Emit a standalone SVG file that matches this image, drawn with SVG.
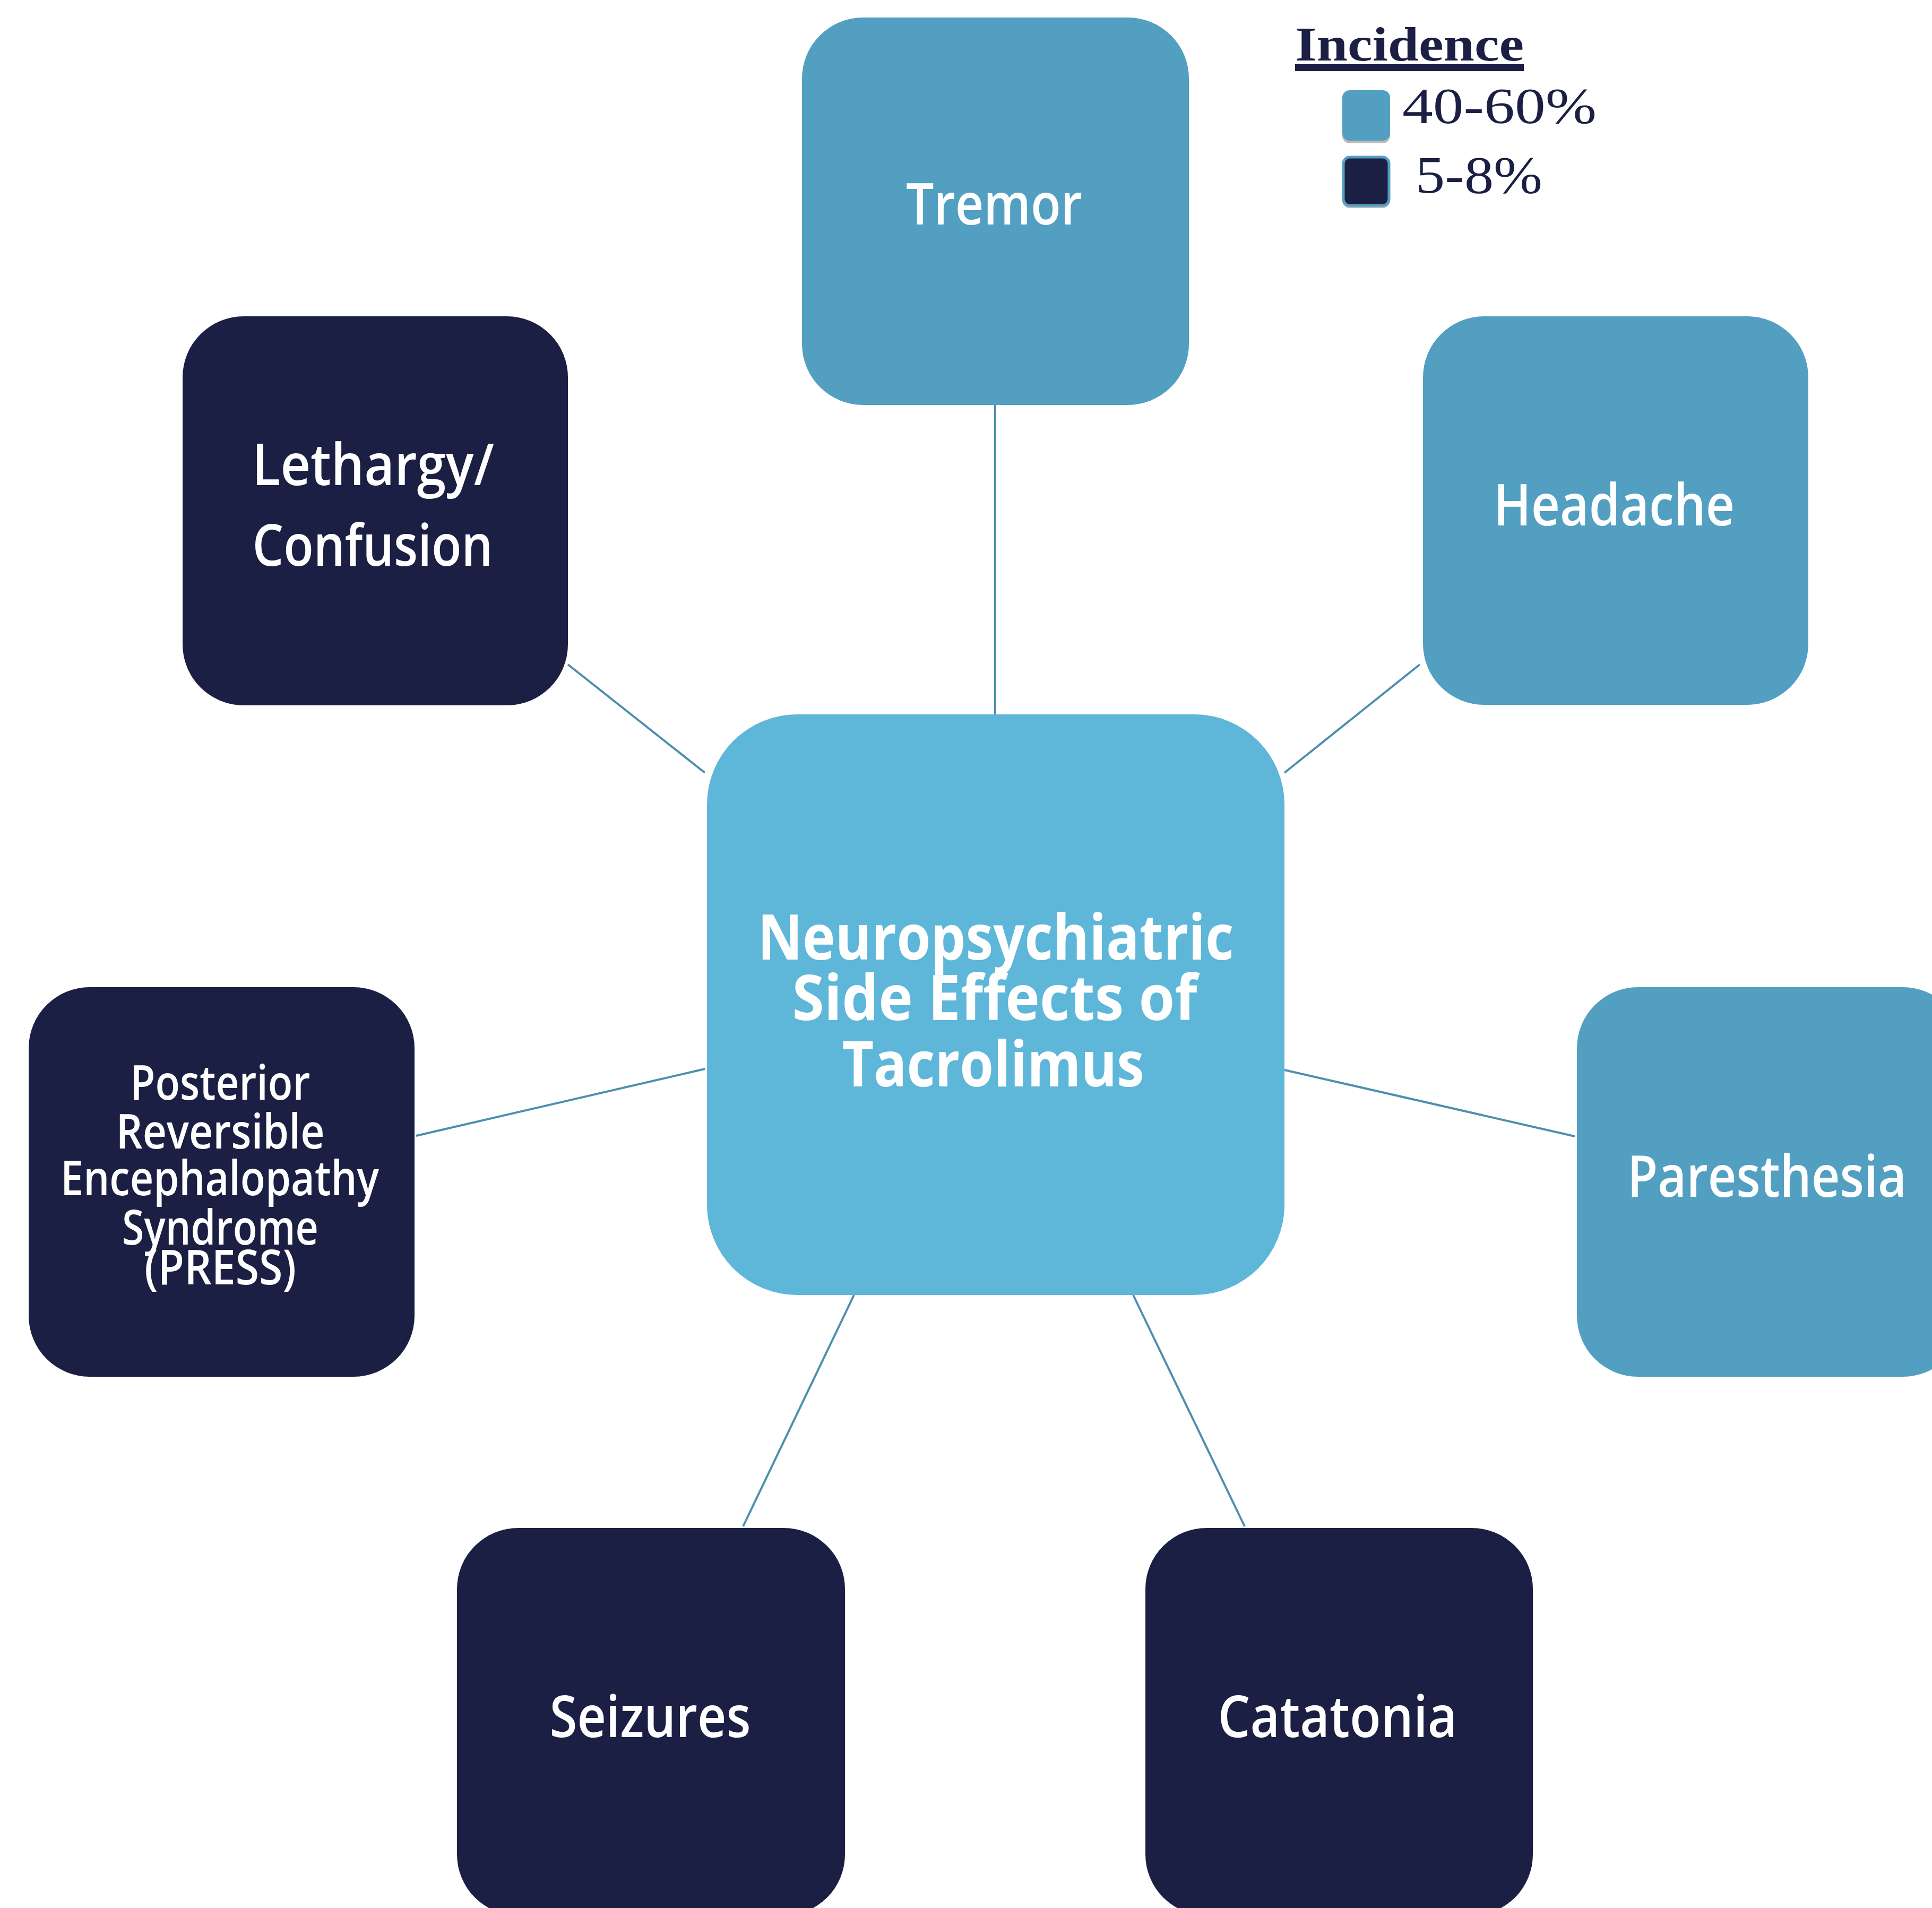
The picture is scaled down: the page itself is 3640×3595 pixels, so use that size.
<svg xmlns="http://www.w3.org/2000/svg" width="3640" height="3595" viewBox="0 0 3640 3595">
<style>
.light{fill:#529FC1}
.dark{fill:#1B1F43}
.center{fill:#5EB6D9}
.lbl{font-family:"Open Sans","Liberation Sans",sans-serif;font-weight:600;font-size:108px;fill:#FFFFFF;text-anchor:middle}
.small{font-size:90px}
.title{font-family:"Open Sans","Liberation Sans",sans-serif;font-weight:700;font-size:118px;fill:#FFFFFF;text-anchor:middle}
.conn{stroke:#4E8FAE;stroke-width:4;fill:none}
.leg{font-family:"Liberation Serif","DejaVu Serif",serif;fill:#1B1F43}
</style>
<rect width="3640" height="3595" fill="#FFFFFF"/>
<g id="connectors">
<line class="conn" x1="1875" y1="763" x2="1875" y2="1346"/>
<line class="conn" x1="1070" y1="1252" x2="1328" y2="1456"/>
<line class="conn" x1="2675" y1="1252" x2="2420" y2="1456"/>
<line class="conn" x1="784" y1="2140" x2="1328" y2="2014"/>
<line class="conn" x1="2420" y1="2016" x2="2967" y2="2141"/>
<line class="conn" x1="1400" y1="2876" x2="1609" y2="2440"/>
<line class="conn" x1="2345" y1="2876" x2="2135" y2="2440"/>
</g>
<g id="center">
<rect class="center" x="1332" y="1346" width="1088" height="1094" rx="170" ry="170"/>
<text class="title" x="1876" y="1808" textLength="897" lengthAdjust="spacingAndGlyphs">Neuropsychiatric</text>
<text class="title" x="1874" y="1922" textLength="763" lengthAdjust="spacingAndGlyphs">Side Effects of</text>
<text class="title" x="1871" y="2047" textLength="569" lengthAdjust="spacingAndGlyphs">Tacrolimus</text>
</g>
<g id="tremor">
<rect class="light" x="1511" y="33" width="729" height="730" rx="115" ry="115"/>
<text class="lbl" x="1873" y="423" textLength="332" lengthAdjust="spacingAndGlyphs">Tremor</text>
</g>
<g id="headache">
<rect class="light" x="2681" y="596" width="726" height="732" rx="115" ry="115"/>
<text class="lbl" x="3041" y="990" textLength="454" lengthAdjust="spacingAndGlyphs">Headache</text>
</g>
<g id="lethargy">
<rect class="dark" x="344" y="596" width="726" height="733" rx="115" ry="115"/>
<text class="lbl" x="703" y="914" textLength="456" lengthAdjust="spacingAndGlyphs">Lethargy/</text>
<text class="lbl" x="702" y="1066" textLength="453" lengthAdjust="spacingAndGlyphs">Confusion</text>
</g>
<g id="press">
<rect class="dark" x="54" y="1860" width="727" height="734" rx="115" ry="115"/>
<text class="lbl small" x="415" y="2072" textLength="339" lengthAdjust="spacingAndGlyphs">Posterior</text>
<text class="lbl small" x="415" y="2164" textLength="393" lengthAdjust="spacingAndGlyphs">Reversible</text>
<text class="lbl small" x="414" y="2252" textLength="600" lengthAdjust="spacingAndGlyphs">Encephalopathy</text>
<text class="lbl small" x="415" y="2345" textLength="370" lengthAdjust="spacingAndGlyphs">Syndrome</text>
<text class="lbl small" x="415" y="2420" textLength="286" lengthAdjust="spacingAndGlyphs">(PRESS)</text>
</g>
<g id="paresthesia">
<rect class="light" x="2971" y="1860" width="729" height="734" rx="115" ry="115"/>
<text class="lbl" x="3329" y="2255" textLength="526" lengthAdjust="spacingAndGlyphs">Paresthesia</text>
</g>
<g id="seizures">
<rect class="dark" x="861" y="2879" width="731" height="730" rx="115" ry="115"/>
<text class="lbl" x="1225" y="3273" textLength="379" lengthAdjust="spacingAndGlyphs">Seizures</text>
</g>
<g id="catatonia">
<rect class="dark" x="2158" y="2879" width="730" height="730" rx="115" ry="115"/>
<text class="lbl" x="2520" y="3273" textLength="451" lengthAdjust="spacingAndGlyphs">Catatonia</text>
</g>
<g id="legend">
<text class="leg" x="2440" y="114" font-size="92" font-weight="700" textLength="431" lengthAdjust="spacingAndGlyphs">Incidence</text>
<rect x="2440" y="121" width="431" height="13" fill="#1B1F43"/>
<rect x="2529" y="175" width="90" height="95" rx="14" fill="#BBBBBB"/>
<rect x="2529" y="170" width="90" height="95" rx="14" fill="#529FC1"/>
<text class="leg" x="2642" y="232" font-size="95" textLength="366" lengthAdjust="spacingAndGlyphs">40-60%</text>
<rect x="2529" y="299" width="90" height="93" rx="14" fill="#BBBBBB"/>
<rect x="2531" y="296" width="86" height="91" rx="12" fill="#1B1F43" stroke="#529FC1" stroke-width="5"/>
<text class="leg" x="2667" y="363" font-size="100" textLength="239" lengthAdjust="spacingAndGlyphs">5-8%</text>
</g>
</svg>
